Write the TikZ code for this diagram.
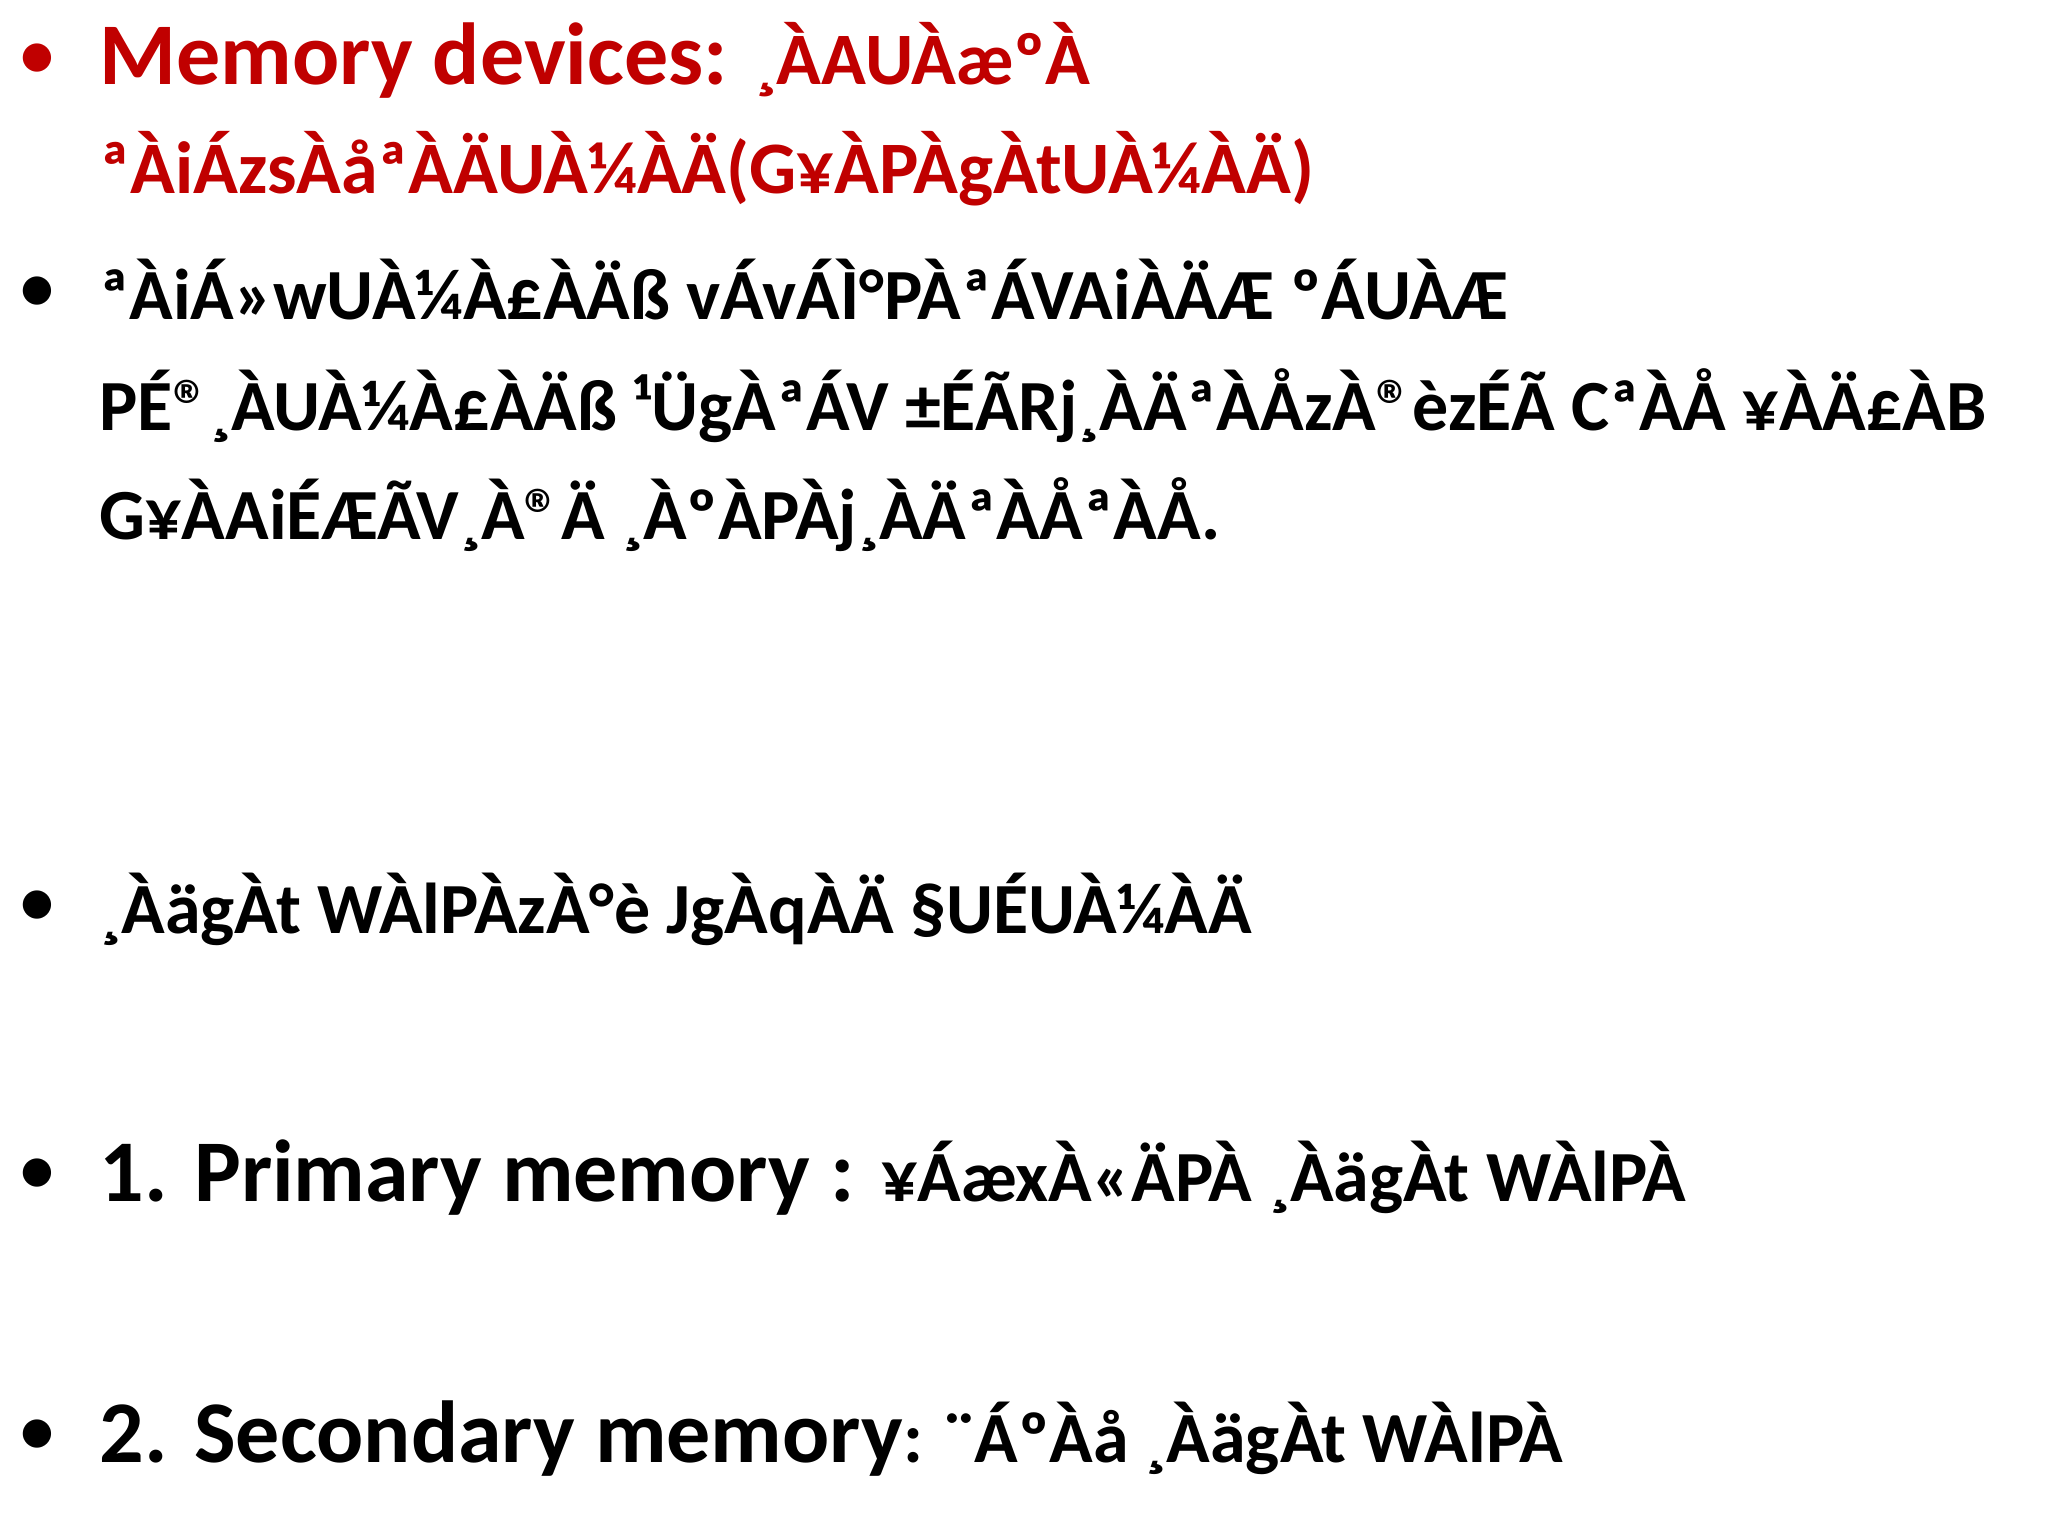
\documentclass[tikz,border=0pt]{standalone}
\usepackage{fontspec}
\setmainfont{Carlito}
\definecolor{slidered}{RGB}{192,0,0}
\begin{document}
\begin{tikzpicture}[x=1pt,y=1pt,
  txt/.style={anchor=base west,inner sep=0pt,font=\bfseries},
  bul/.style={anchor=base,inner sep=0pt,font=\fontsize{40}{40}\selectfont}]
\useasboundingbox (0,0) rectangle (1024,-768);
\node[bul,text=slidered] (b1) at (18.5,{-62*0.653}) {•};
\node[txt,text=slidered,font=\bfseries\fontsize{44}{44}\selectfont] (l1) at (49.6,{-65*0.653}) {Memory devices: {\fontsize{37}{37}\selectfont ¸ÀAUÀæºÀ}};
\node[txt,text=slidered,font=\bfseries\fontsize{37}{37}\selectfont] (l2) at (49.6,{-148*0.653}) {ªÀiÁzsÀåªÀÄUÀ¼ÀÄ(G¥ÀPÀgÀtUÀ¼ÀÄ)};
\node[bul] (b2) at (18.5,{-240*0.653}) {•};
\node[txt,font=\bfseries\fontsize{36}{36}\selectfont] (l3) at (49.6,{-245*0.653}) {ªÀiÁ»wUÀ¼À£ÀÄß vÁvÁÌ°PÀªÁVAiÀÄÆ ºÁUÀÆ};
\node[txt,font=\bfseries\fontsize{36}{36}\selectfont] (l4) at (49.6,{-330*0.653}) {PÉ®¸ÀUÀ¼À£ÀÄß ¹ÜgÀªÁV ±ÉÃRj¸ÀÄªÀÅzÀ®èzÉÃ CªÀÅ ¥ÀÄ£ÀB};
\node[txt,font=\bfseries\fontsize{36}{36}\selectfont] (l5) at (49.6,{-413*0.653}) {G¥ÀAiÉÆÃV¸À®Ä ¸ÀºÀPÀj¸ÀÄªÀÅªÀÅ.};
\node[bul] (b3) at (18.5,{-710*0.653}) {•};
\node[txt,font=\bfseries\fontsize{36}{36}\selectfont] (l6) at (49.6,{-715*0.653}) {¸ÀägÀt WÀlPÀzÀ°è JgÀqÀÄ §UÉUÀ¼ÀÄ};
\node[bul] (b4) at (18.5,{-915*0.653}) {•};
\node[txt,font=\bfseries\fontsize{44}{44}\selectfont] (l7) at (49.6,{-920*0.653}) {1. Primary memory : {\fontsize{36}{36}\selectfont ¥ÁæxÀ«ÄPÀ ¸ÀägÀt WÀlPÀ}};
\node[bul] (b5) at (18.5,{-1115*0.653}) {•};
\node[txt,font=\bfseries\fontsize{44}{44}\selectfont] (l8) at (49.6,{-1120*0.653}) {2. Secondary memory{\fontsize{36}{36}\selectfont : ¨ÁºÀå ¸ÀägÀt WÀlPÀ}};
\end{tikzpicture}
\end{document}
